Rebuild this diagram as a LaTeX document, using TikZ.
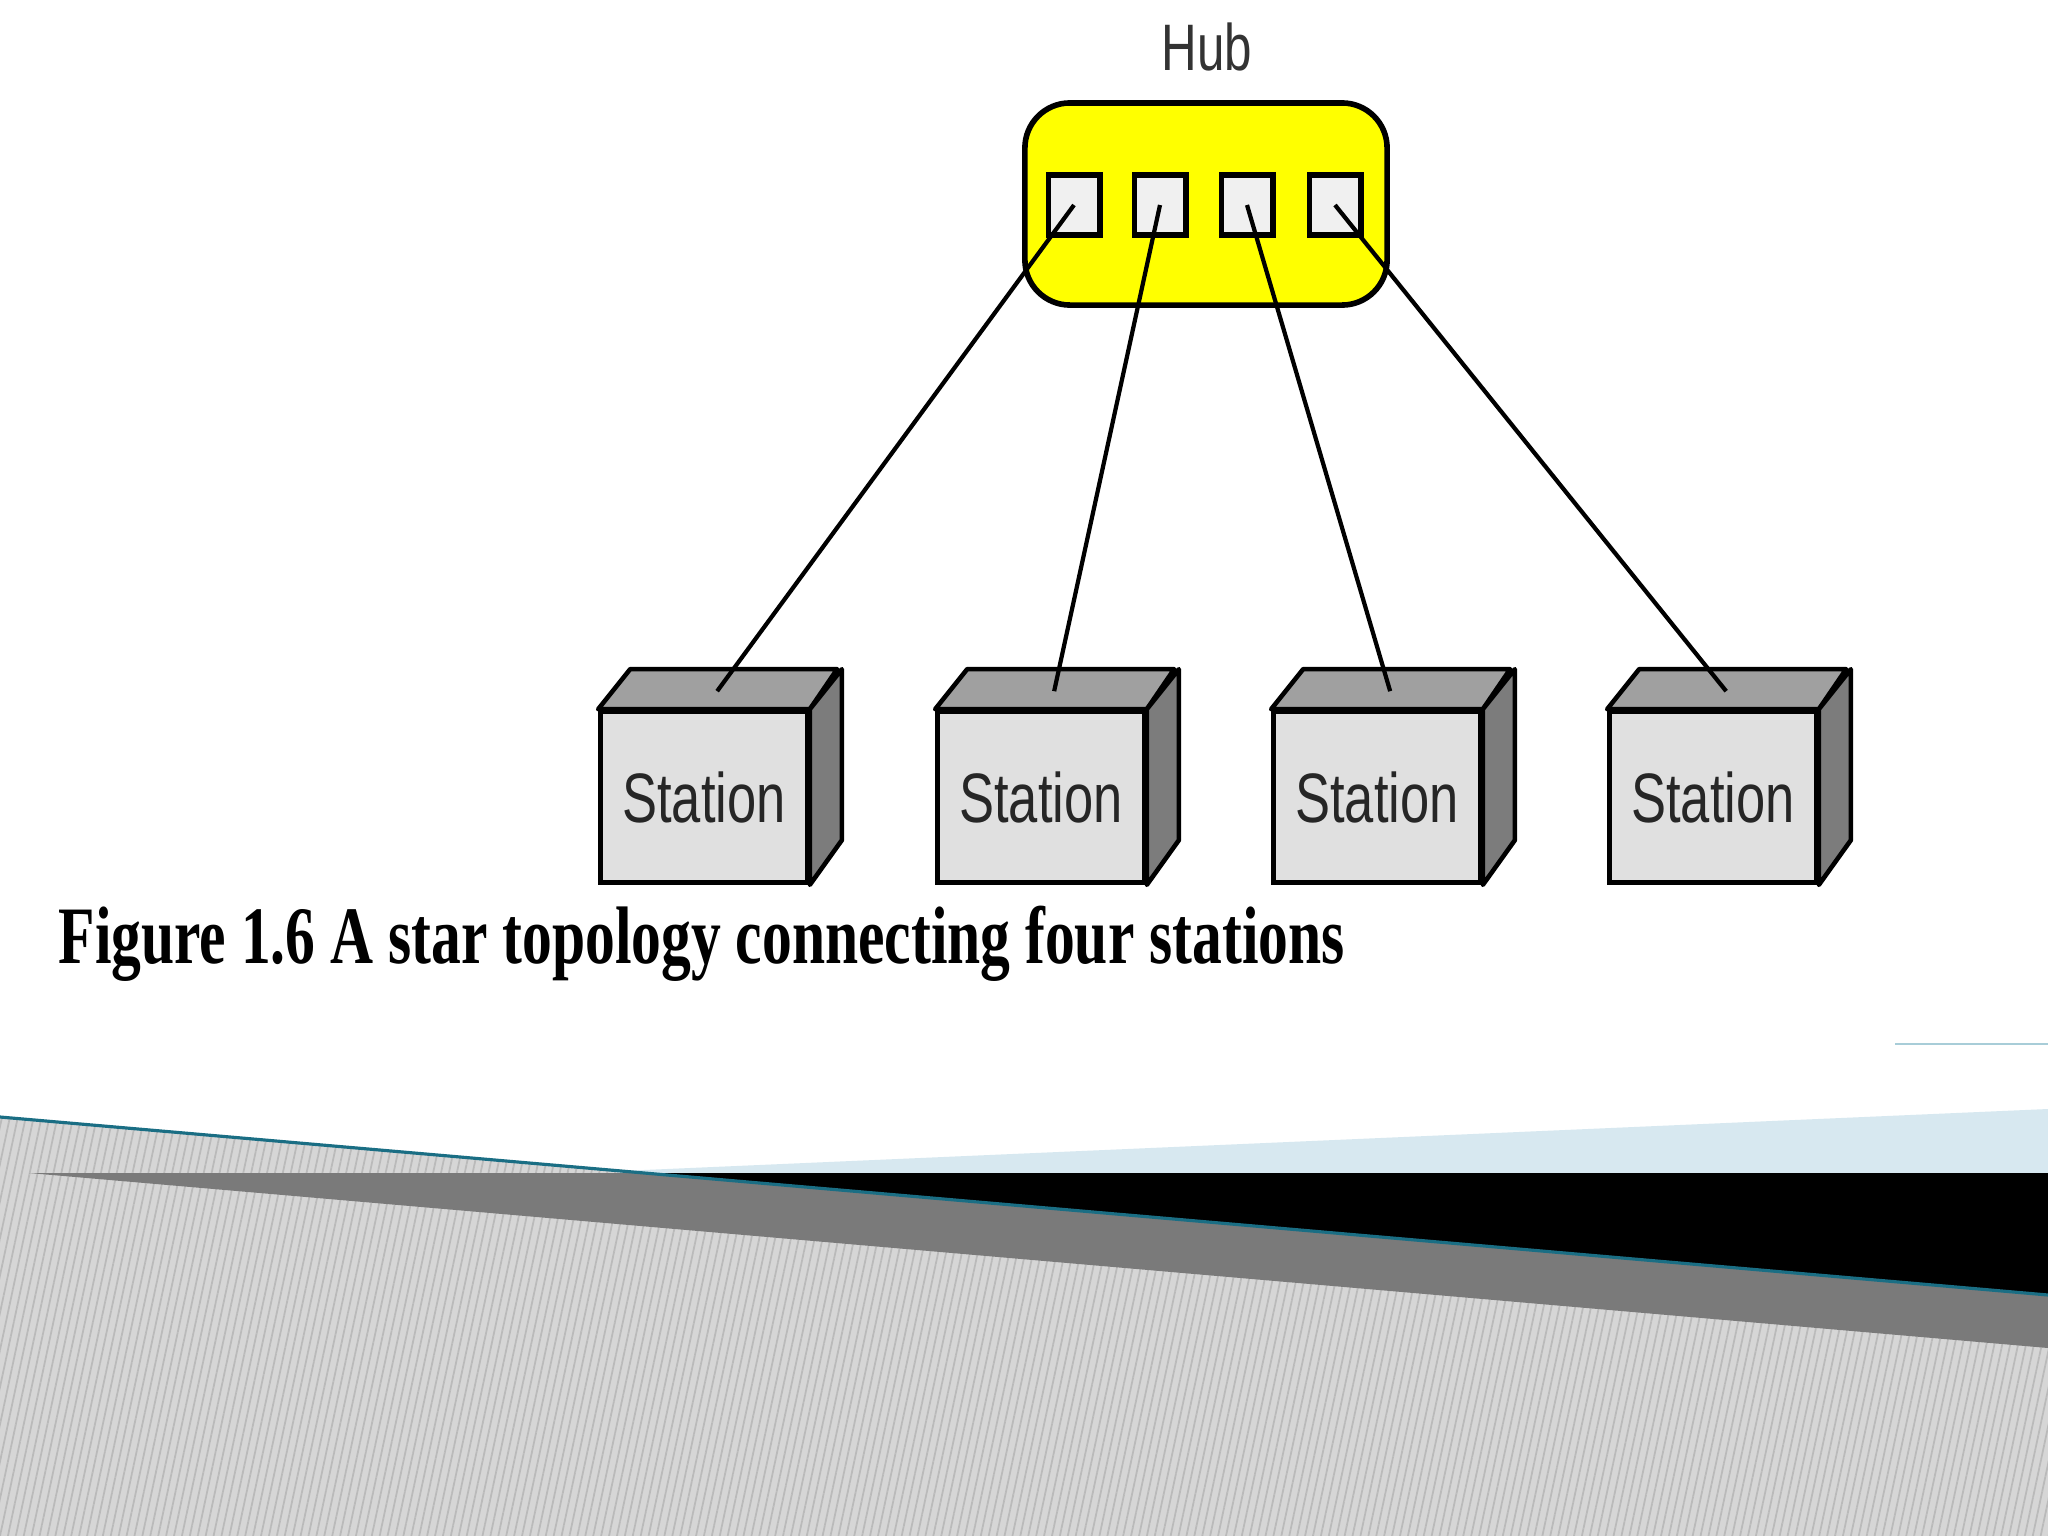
\documentclass[tikz,border=0pt]{standalone}
\usepackage{fontspec}
\usetikzlibrary{calc,patterns.meta}
\newfontfamily\lblfont[FakeStretch=0.75]{Liberation Sans}
\newfontfamily\capfont[FakeStretch=0.73]{Liberation Serif}
\definecolor{hubYellow}{RGB}{255,255,0}
\definecolor{stFront}{RGB}{224,224,224}
\definecolor{stTop}{RGB}{160,160,160}
\definecolor{stSide}{RGB}{124,124,124}
\definecolor{decoGray}{RGB}{214,214,214}
\definecolor{decoHatch}{RGB}{186,186,186}
\definecolor{decoDark}{RGB}{122,122,122}
\definecolor{decoBlue}{RGB}{215,232,240}
\definecolor{decoTeal}{RGB}{26,110,132}
\definecolor{decoLine}{RGB}{168,205,216}

\begin{document}
\begin{tikzpicture}[x=0.01cm,y=-0.01cm,
      hub/.style={draw=black,line width=1.6pt,fill=hubYellow,rounded corners=0.45cm,minimum width=3.62cm,minimum height=2.02cm},
      port/.style={draw=black,line width=1.7pt,fill=white!94!black,minimum width=0.51cm,minimum height=0.6cm,inner sep=0pt},
      station/.style={draw=black,line width=1.3pt,fill=stFront,minimum width=2.07cm,minimum height=1.71cm,inner sep=0pt,font=\lblfont\fontsize{19.9}{20}\selectfont,text=black!85},
      face/.style={draw=black,line width=1.3pt,line join=round},
      link/.style={draw=black,line width=1.2pt}
    ]
    \useasboundingbox (0,0) rectangle (2048,1536);
    \fill[white] (0,0) rectangle (2048,1536);

    \fill[decoBlue] (575,1173) -- (2048,1109) -- (2048,1173) -- cycle;
    \fill[decoGray] (0,1117) -- (2048,1295) -- (2048,1536) -- (0,1536) -- cycle;
    \fill[pattern={Lines[angle=78,distance=2.2pt,line width=0.5pt]},pattern color=decoHatch] (0,1117) -- (2048,1295) -- (2048,1536) -- (0,1536) -- cycle;
    \fill[decoDark] (29,1173) -- (640,1173) -- (2048,1295) -- (2048,1348) -- cycle;
    \fill[black] (640,1173) -- (2048,1173) -- (2048,1295) -- cycle;
    \draw[decoTeal,line width=0.9pt] (0,1117) -- (2048,1295);
    \draw[decoLine,line width=0.8pt] (1895,1044) -- (2048,1044);

    \node[hub] (hub) at (1206,204) {};
    \node[anchor=base,font=\lblfont\fontsize{18.7}{19}\selectfont,text=black!80] (hublbl) at (1207,70) {Hub};
    \node[port] (p1) at (1074,205) {};
    \node[port] (p2) at (1160,205) {};
    \node[port] (p3) at (1247,205) {};
    \node[port] (p4) at (1335,205) {};

    \node[station] (s1) at (704,797)  {Station};
    \node[station] (s2) at (1041,797) {Station};
    \node[station] (s3) at (1377,797) {Station};
    \node[station] (s4) at (1713,797) {Station};

    \foreach \i in {1,...,4}{
      \filldraw[face,fill=stTop] (s\i.north west) -- ++(32,-40) -- ++(207,0) -- (s\i.north east) -- cycle;
      \filldraw[face,fill=stSide] (s\i.north east) -- ++(32,-40) -- ++(0,171) -- (s\i.south east) -- cycle;
      \coordinate (t\i) at ($(s\i.north west)+(119,-18)$);
    }

    \draw[link] (p1.center) -- (t1);
    \draw[link] (p2.center) -- (t2);
    \draw[link] (p3.center) -- (t3);
    \draw[link] (p4.center) -- (t4);

    \node[anchor=base west,inner sep=0pt,font=\capfont\bfseries\fontsize{23.2}{24}\selectfont] (cap) at (58,963) {Figure 1.6 A star topology connecting four stations};
  \end{tikzpicture}
\end{document}
